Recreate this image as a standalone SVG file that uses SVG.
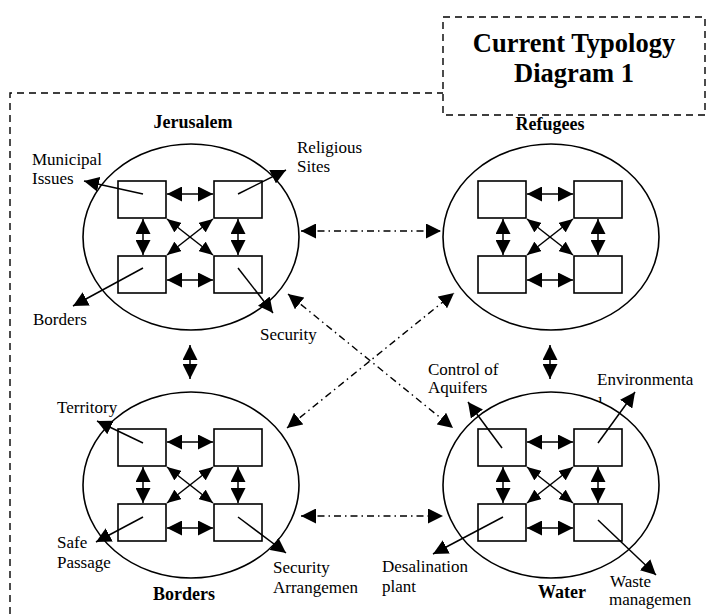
<svg xmlns="http://www.w3.org/2000/svg" width="707" height="614" viewBox="0 0 707 614">
<style>
.bg{fill:#fff}
.ell{fill:none;stroke:#000;stroke-width:1.6}
.box{fill:#fff;stroke:#000;stroke-width:1.6}
.ar{fill:none;stroke:#000;stroke-width:1.5;marker-end:url(#ah)}
.dar{fill:none;stroke:#000;stroke-width:1.5;marker-start:url(#ah);marker-end:url(#ah)}
.dg{fill:none;stroke:#000;stroke-width:1.5;marker-start:url(#ahs);marker-end:url(#ahs)}
.dd{fill:none;stroke:#000;stroke-width:1.4;stroke-dasharray:7,4,1.5,4;marker-start:url(#ah);marker-end:url(#ah)}
.frame{fill:none;stroke:#000;stroke-width:1.4;stroke-dasharray:7,5}
.t{font-family:"Liberation Serif","Times New Roman",serif;font-size:17px;fill:#000}
.b{font-family:"Liberation Serif","Times New Roman",serif;font-size:18px;font-weight:bold;fill:#000;text-anchor:middle}
.title{font-family:"Liberation Serif","Times New Roman",serif;font-size:26.5px;font-weight:bold;fill:#000;text-anchor:middle}
</style>
<defs>
<marker id="ah" markerUnits="userSpaceOnUse" markerWidth="15" markerHeight="15" refX="15" refY="7.5" orient="auto-start-reverse" viewBox="0 0 15 15">
<path d="M0,0 L15,7.5 L0,15 Z" fill="#000"/>
</marker>
<marker id="ahs" markerUnits="userSpaceOnUse" markerWidth="14" markerHeight="12" refX="14" refY="6" orient="auto-start-reverse" viewBox="0 0 14 12">
<path d="M0,0 L14,6 L0,12 Z" fill="#000"/>
</marker>
<clipPath id="clipL"><rect x="580" y="380" width="40" height="23"/></clipPath>
</defs>
<rect class="bg" x="0" y="0" width="707" height="614"/>

<g id="frame">
<path class="frame" d="M10,614 V93 H443"/>
</g>
<g id="title">
<rect class="frame" x="443" y="17" width="262" height="98"/>
<text class="title" x="574" y="52">Current Typology</text>
<text class="title" x="574" y="82">Diagram 1</text>
</g>

<g id="jerusalem">
<ellipse class="ell" cx="191" cy="237" rx="108" ry="93"/>
<rect class="box" x="118" y="181" width="48" height="37"/>
<rect class="box" x="214" y="181" width="48" height="37"/>
<rect class="box" x="118" y="256" width="48" height="37"/>
<rect class="box" x="214" y="256" width="48" height="37"/>
<path class="dar" d="M167,194 H213"/>
<path class="dar" d="M167,280 H213"/>
<path class="dar" d="M143,219 V255"/>
<path class="dar" d="M238,219 V255"/>
<path class="dg" d="M167,219 L213,255"/>
<path class="dg" d="M213,219 L167,255"/>
<text class="b" x="193" y="128">Jerusalem</text>
<path class="ar" d="M143,194 L84,181"/>
<path class="ar" d="M238,194 L286,170"/>
<path class="ar" d="M143,268 L73,306"/>
<path class="ar" d="M238,268 L273,313"/>
<text class="t" x="32" y="165">Municipal</text>
<text class="t" x="32" y="184">Issues</text>
<text class="t" x="297" y="153">Religious</text>
<text class="t" x="297" y="172">Sites</text>
<text class="t" x="33" y="325">Borders</text>
<text class="t" x="260" y="340">Security</text>
</g>

<g id="refugees">
<g transform="translate(360,0)">
<ellipse class="ell" cx="191" cy="237" rx="108" ry="93"/>
<rect class="box" x="118" y="181" width="48" height="37"/>
<rect class="box" x="214" y="181" width="48" height="37"/>
<rect class="box" x="118" y="256" width="48" height="37"/>
<rect class="box" x="214" y="256" width="48" height="37"/>
<path class="dar" d="M167,194 H213"/>
<path class="dar" d="M167,280 H213"/>
<path class="dar" d="M143,219 V255"/>
<path class="dar" d="M238,219 V255"/>
<path class="dg" d="M167,219 L213,255"/>
<path class="dg" d="M213,219 L167,255"/>
</g>
<text class="b" x="550" y="130">Refugees</text>
</g>

<g id="borders">
<g transform="translate(0,248)">
<ellipse class="ell" cx="191" cy="237" rx="108" ry="93"/>
<rect class="box" x="118" y="181" width="48" height="37"/>
<rect class="box" x="214" y="181" width="48" height="37"/>
<rect class="box" x="118" y="256" width="48" height="37"/>
<rect class="box" x="214" y="256" width="48" height="37"/>
<path class="dar" d="M167,194 H213"/>
<path class="dar" d="M167,280 H213"/>
<path class="dar" d="M143,219 V255"/>
<path class="dar" d="M238,219 V255"/>
<path class="dg" d="M167,219 L213,255"/>
<path class="dg" d="M213,219 L167,255"/>
</g>
<path class="ar" d="M143,443 L97,421"/>
<path class="ar" d="M143,517 L96,542"/>
<path class="ar" d="M238,517 L286,553"/>
<text class="t" x="57" y="413">Territory</text>
<text class="t" x="57" y="548">Safe</text>
<text class="t" x="57" y="568">Passage</text>
<text class="t" x="273" y="573">Security</text>
<text class="t" x="273" y="593">Arrangemen</text>
<text class="b" x="184" y="600">Borders</text>
</g>

<g id="water">
<g transform="translate(360,248)">
<ellipse class="ell" cx="191" cy="237" rx="108" ry="93"/>
<rect class="box" x="118" y="181" width="48" height="37"/>
<rect class="box" x="214" y="181" width="48" height="37"/>
<rect class="box" x="118" y="256" width="48" height="37"/>
<rect class="box" x="214" y="256" width="48" height="37"/>
<path class="dar" d="M167,194 H213"/>
<path class="dar" d="M167,280 H213"/>
<path class="dar" d="M143,219 V255"/>
<path class="dar" d="M238,219 V255"/>
<path class="dg" d="M167,219 L213,255"/>
<path class="dg" d="M213,219 L167,255"/>
</g>
<path class="ar" d="M502,448 L468,402"/>
<path class="ar" d="M598,443 L635,392"/>
<path class="ar" d="M503,517 L433,554"/>
<path class="ar" d="M598,520 L656,575"/>
<text class="t" x="428" y="375">Control of</text>
<text class="t" x="428" y="393">Aquifers</text>
<text class="t" x="597" y="385">Environmenta</text>
<text class="t" x="598" y="409" clip-path="url(#clipL)">l</text>
<text class="t" x="382" y="572">Desalination</text>
<text class="t" x="382" y="592">plant</text>
<text class="t" x="610" y="587">Waste</text>
<text class="t" x="609" y="605">managemen</text>
<text class="b" x="562" y="598">Water</text>
</g>

<g id="connectors">
<path class="dd" d="M301,231 H441"/>
<path class="dd" d="M301,516 H443"/>
<path class="dd" d="M288,294 L453,428"/>
<path class="dd" d="M287,428 L454,293"/>
<path class="dar" d="M190,345 V379"/>
<path class="dar" d="M550,345 V379"/>
</g>
</svg>
